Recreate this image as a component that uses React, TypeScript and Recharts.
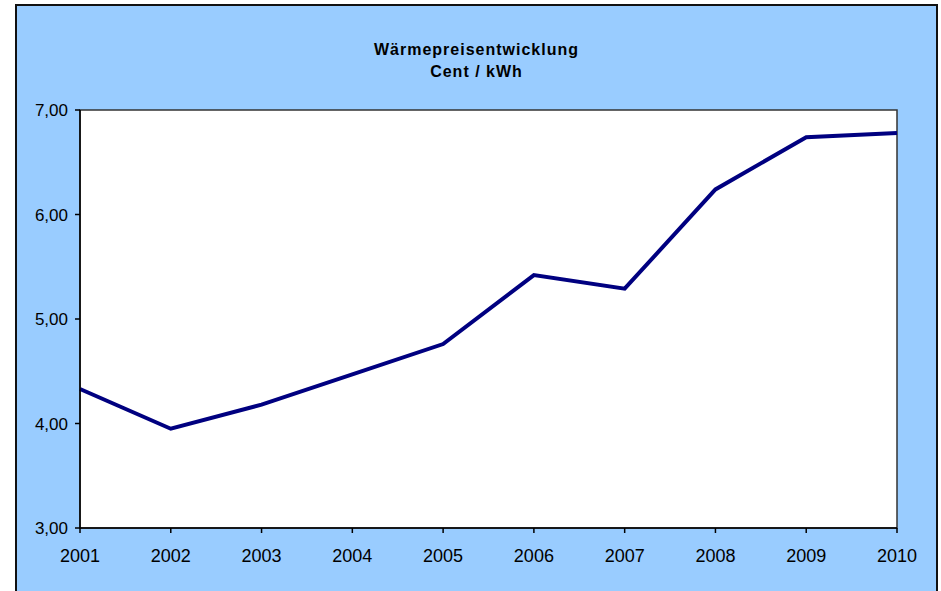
import { CartesianGrid, Line, LineChart, ReferenceArea, XAxis, YAxis } from "recharts";

const years = ["2001", "2002", "2003", "2004", "2005", "2006", "2007", "2008", "2009", "2010"];
const prices = [4.33, 3.95, 4.18, 4.47, 4.76, 5.42, 5.29, 6.24, 6.74, 6.78];
const yTicks = [3, 4, 5, 6, 7];

const data = years.map((year, i) => ({ year, price: prices[i] }));

const font = "Arial, 'Liberation Sans', sans-serif";

const formatPrice = (v: number) => v.toFixed(2).replace(".", ",");

export default function App() {
    return (
        <div style={{ position: "absolute", left: 0, top: 0, width: 941, height: 591, overflow: "hidden", fontFamily: font }}>
            {/* blue chart frame */}
            <div
                style={{
                    position: "absolute",
                    left: 15,
                    top: 4,
                    width: 923,
                    height: 620,
                    boxSizing: "border-box",
                    background: "#99ccff",
                    border: "2px solid #111",
                }}
            />
            <div
                style={{
                    position: "absolute",
                    left: 15,
                    width: 923,
                    top: 39,
                    textAlign: "center",
                    fontWeight: "bold",
                    fontSize: 16,
                    lineHeight: "22px",
                    letterSpacing: 1,
                    color: "#000",
                }}
            >
                <div>Wärmepreisentwicklung</div>
                <div>Cent / kWh</div>
            </div>
            <div style={{ position: "absolute", left: 0, top: 0 }}>
                <LineChart width={941} height={591} data={data} margin={{ top: 110, right: 44, bottom: 0, left: 0 }}>
                    <CartesianGrid horizontal={false} vertical={false} fill="#fff" />
                    <ReferenceArea x1="2001" x2="2010" y1={3} y2={7} fill="#fff" fillOpacity={1} stroke="#333" strokeWidth={1.5} />
                    <XAxis
                        dataKey="year"
                        height={63}
                        tickSize={5}
                        tickMargin={16}
                        stroke="#000"
                        strokeWidth={1.5}
                        tick={{ fill: "#000", fontSize: 18, fontFamily: font }}
                        interval={0}
                    />
                    <YAxis
                        width={80}
                        domain={[3, 7]}
                        ticks={yTicks}
                        tickFormatter={formatPrice}
                        tickSize={5}
                        tickMargin={7}
                        stroke="#000"
                        strokeWidth={1.5}
                        tick={{ fill: "#000", fontSize: 17, fontFamily: font }}
                        interval={0}
                    />
                    <Line type="linear" dataKey="price" stroke="#000080" strokeWidth={4} dot={false} isAnimationActive={false} />
                </LineChart>
            </div>
        </div>
    );
}
